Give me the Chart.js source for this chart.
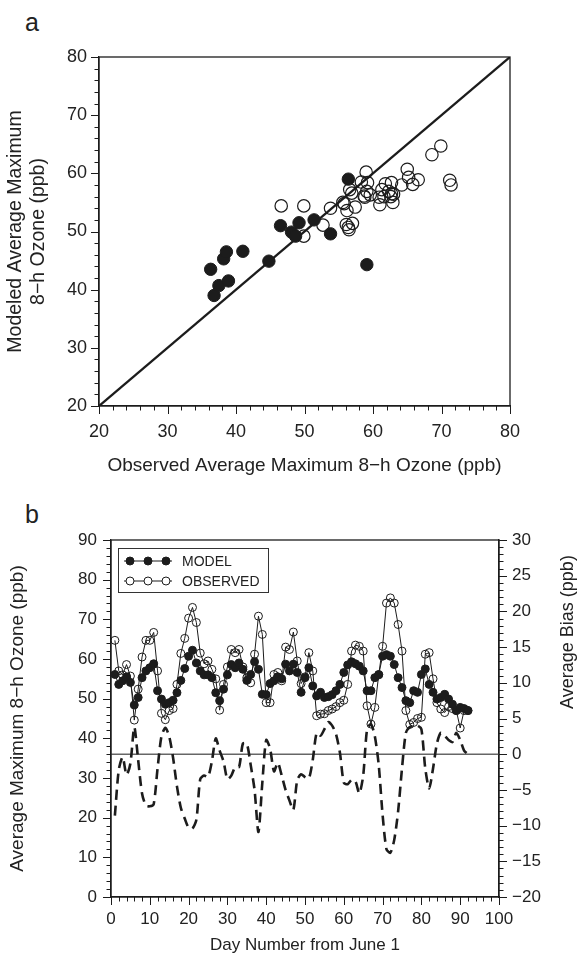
<!DOCTYPE html>
<html>
<head>
<meta charset="utf-8">
<script src="https://cdn.jsdelivr.net/npm/chart.js@4.4.1/dist/chart.umd.min.js"></script>
<style>
  html, body { margin: 0; padding: 0; background: #fff; }
  body { width: 584px; height: 963px; position: relative; overflow: hidden; font-family: "Liberation Sans", Arial, sans-serif; }
  canvas { position: absolute; left: 0; }
  .panel { position: absolute; left: 25px; font-size: 25px; color: #222; line-height: 1; }
</style>
</head>
<body>
<div class="panel" style="top:10px">a</div>
<div class="panel" style="top:502px">b</div>
<canvas id="scatterChart" width="584" height="490" style="top:0"></canvas>
<canvas id="seriesChart" width="584" height="473" style="top:490px"></canvas>
<script>
// ---- panel a: modeled vs observed (ppb) ----
const filledObs = [36.3, 36.8, 37.5, 38.2, 38.6, 38.9, 41.0, 44.8, 46.5, 48.1, 48.7, 49.2, 51.4, 53.8, 56.4, 59.1];
const filledMod = [43.5, 39.0, 40.7, 45.3, 46.5, 41.5, 46.6, 44.9, 51.0, 49.9, 49.2, 51.5, 52.0, 49.6, 59.0, 44.3];
const openObs = [46.6, 49.9, 49.9, 52.7, 53.8, 55.6, 56.2, 56.1, 56.5, 57.0, 56.6, 56.9, 57.4, 58.3, 58.7, 59.0,
                 59.2, 59.6, 59.1, 60.9, 61.0, 61.3, 61.8, 62.3, 62.7, 62.9, 63.0, 64.2, 65.0, 65.2, 65.8, 66.6,
                 68.6, 69.9, 71.2, 71.4, 62.7, 55.8, 56.4, 58.8, 61.6, 62.6];
const openMod = [54.4, 54.4, 49.2, 51.1, 54.0, 55.0, 53.6, 51.2, 50.3, 51.4, 57.2, 56.6, 54.2, 58.5, 56.1, 60.2,
                 58.4, 56.3, 56.9, 55.9, 54.6, 57.2, 58.2, 56.9, 58.4, 55.0, 56.4, 58.0, 60.7, 59.3, 58.1, 58.9,
                 63.2, 64.7, 58.8, 58.0, 56.5, 54.8, 50.7, 55.9, 56.0, 56.0];
const oneToOne = [20, 80];

// ---- panel b: daily series from June 1 ----
const firstDay = 1;
const modelOzone = [
  56.1, 53.6, 54.5, 55.5, 54.1, 48.4, 50.3, 55.3, 57.0, 57.8,
  58.8, 52.0, 49.9, 48.6, 49.0, 49.6, 51.5, 54.6, 57.6, 60.7,
  62.2, 59.0, 57.0, 56.0, 56.0, 55.3, 51.5, 49.5, 52.4, 56.0,
  58.6, 57.8, 59.0, 57.4, 54.6, 56.1, 59.3, 57.4, 51.1, 51.0,
  53.8, 54.5, 55.5, 55.0, 58.7, 57.0, 58.7, 56.6, 51.6, 55.3,
  57.8, 53.2, 50.7, 51.6, 50.3, 50.5, 51.0, 52.0, 53.6, 56.6,
  58.5, 59.3, 58.8, 58.2, 57.0, 52.0, 52.0, 55.3, 56.1, 60.7,
  61.1, 60.7, 58.6, 55.3, 52.8, 49.5, 49.0, 52.0, 51.6, 56.1,
  57.5, 53.6, 51.6, 49.9, 50.3, 51.1, 49.9, 48.6, 47.0, 47.8,
  47.5, 47.0];
const observedOzone = [
  64.7, 57.0, 56.0, 58.6, 55.7, 44.6, 52.4, 60.5, 64.7, 64.7,
  66.7, 57.0, 46.3, 44.7, 47.0, 47.5, 53.6, 61.4, 65.2, 70.3,
  73.0, 69.2, 61.5, 58.8, 59.5, 57.4, 55.0, 47.1, 53.6, 58.0,
  62.4, 61.6, 62.4, 58.0, 55.3, 54.0, 61.2, 70.8, 66.2, 49.0,
  49.0, 56.1, 56.6, 54.5, 63.0, 62.4, 66.8, 59.5, 53.8, 55.5,
  61.6, 57.0, 45.7, 46.1, 46.2, 47.0, 47.4, 48.0, 49.0, 49.6,
  53.6, 62.0, 63.5, 63.2, 62.0, 48.2, 43.6, 47.8, 56.0, 63.2,
  74.1, 75.4, 74.1, 68.7, 62.0, 47.0, 43.5, 44.0, 45.0, 45.3,
  61.2, 61.6, 55.0, 49.0, 47.4, 46.5, 48.0, 47.5, 47.0, 42.6,
  47.0, 47.0];
const averageBias = [
  -8.6, -2.2, -0.4, -2.9, -1.3, 3.8, -0.8, -5.5, -7.2, -7.3,
  -7.0, -2.0, 2.5, 3.7, 2.5, -0.5, -4.5, -7.5, -9.0, -10.3,
  -10.4, -9.2, -3.5, -3.0, -3.2, -1.0, 2.2, 0.5, -1.0, -3.5,
  -3.0, -1.8, -1.8, 1.5, 1.5, -1.5, -5.0, -10.9, -4.0, 2.0,
  0.8, -2.4, -1.2, -3.0, -5.0, -6.5, -7.8, -3.6, -2.8, -3.2,
  -3.4, -0.8, 3.0, 2.6, 3.5, 4.5, 4.0, 2.8, 0.2, -4.0,
  -4.2, -3.6, -3.8, -5.5, -3.0, 3.5, 4.2, 2.5, -1.5, -8.5,
  -13.3, -13.8, -12.0, -8.0, -2.0, 3.0, 3.8, 4.0, 4.0, 3.5,
  -2.0, -4.8, -2.0, 1.5, 3.0, 2.6, 2.0, 1.7, 3.0, 2.0,
  0.5, 0.0];
const zeroLineDays = [0, 100];

const INK = '#1c1c1c';
const FONT = '"Liberation Sans", Arial, sans-serif';
Chart.defaults.font.family = FONT;
Chart.defaults.color = '#222';

function pairs(xs, ys) {
  return xs.map((x, i) => ({ x: x, y: ys[i] }));
}
function daySeries(values) {
  return values.map((v, i) => ({ x: firstDay + i, y: v }));
}
function majorLabel(every) {
  return v => (Math.abs(v % every) < 1e-6 ? (v < 0 ? '\u2212' + Math.abs(v) : String(v)) : '');
}

// box round the plot area, plus major/minor ticks on the outside
const axisFrame = {
  id: 'axisFrame',
  afterDraw(chart, args, opts) {
    const ctx = chart.ctx, a = chart.chartArea;
    ctx.save();
    ctx.strokeStyle = INK;
    ctx.lineWidth = 1;
    Object.keys(opts.majors || {}).forEach(id => {
      const s = chart.scales[id];
      s.ticks.forEach(t => {
        const major = Math.abs(t.value % opts.majors[id]) < 1e-6;
        const len = major ? 8 : 4.5;
        const p = Math.round(s.getPixelForValue(t.value)) + 0.5;
        ctx.beginPath();
        if (s.position === 'left') { ctx.moveTo(a.left - len, p); ctx.lineTo(a.left, p); }
        else if (s.position === 'right') { ctx.moveTo(a.right, p); ctx.lineTo(a.right + len, p); }
        else { ctx.moveTo(p, a.bottom); ctx.lineTo(p, a.bottom + len); }
        ctx.stroke();
      });
    });
    ctx.lineWidth = 1.3;
    ctx.strokeRect(a.left, a.top, a.right - a.left, a.bottom - a.top);
    ctx.restore();
  }
};

// legend box and right-hand axis title for panel b
const seriesExtras = {
  id: 'seriesExtras',
  afterDraw(chart) {
    const ctx = chart.ctx, a = chart.chartArea;
    ctx.save();
    const x0 = a.left + 7, y0 = a.top + 8;
    ctx.fillStyle = '#fff';
    ctx.fillRect(x0, y0, 150, 44);
    ctx.strokeStyle = '#333';
    ctx.lineWidth = 1;
    ctx.strokeRect(x0 + 0.5, y0 + 0.5, 150, 44);
    const rows = [
      { text: 'MODEL', fill: INK, y: y0 + 13 },
      { text: 'OBSERVED', fill: '#fff', y: y0 + 33 }
    ];
    rows.forEach(r => {
      ctx.strokeStyle = INK;
      ctx.lineWidth = 1;
      ctx.beginPath();
      ctx.moveTo(x0 + 6, r.y);
      ctx.lineTo(x0 + 54, r.y);
      ctx.stroke();
      [12, 30, 48].forEach(dx => {
        ctx.beginPath();
        ctx.arc(x0 + dx, r.y, 4, 0, Math.PI * 2);
        ctx.fillStyle = r.fill;
        ctx.fill();
        ctx.stroke();
      });
      ctx.fillStyle = '#222';
      ctx.font = '14px ' + FONT;
      ctx.textBaseline = 'middle';
      ctx.textAlign = 'left';
      ctx.fillText(r.text, x0 + 64, r.y + 1);
    });
    ctx.translate(568, a.top + 92);
    ctx.rotate(-Math.PI / 2);
    ctx.fillStyle = '#222';
    ctx.font = '18px ' + FONT;
    ctx.textAlign = 'center';
    ctx.textBaseline = 'middle';
    ctx.fillText('Average Bias (ppb)', 0, 0);
    ctx.restore();
  }
};

// ---- render panel a ----
new Chart(document.getElementById('scatterChart'), {
  type: 'scatter',
  data: {
    datasets: [
      { data: pairs(filledObs, filledMod), pointRadius: 6.2, pointBackgroundColor: INK, pointBorderColor: INK, pointBorderWidth: 1 },
      { data: pairs(openObs, openMod), pointRadius: 6.2, pointBackgroundColor: 'rgba(255,255,255,0)', pointBorderColor: INK, pointBorderWidth: 1.2 },
      { data: pairs(oneToOne, oneToOne), showLine: true, borderColor: INK, borderWidth: 2.3, pointRadius: 0 }
    ]
  },
  options: {
    responsive: false,
    animation: false,
    layout: { padding: { top: 57, right: 74, left: 0, bottom: 0 } },
    plugins: {
      legend: { display: false },
      tooltip: { enabled: false },
      axisFrame: { majors: { x: 10, y: 10 } }
    },
    scales: {
      x: {
        type: 'linear', min: 20, max: 80,
        afterFit: s => { s.height = 84; },
        ticks: { stepSize: 2, autoSkip: false, maxRotation: 0, padding: 7, font: { size: 18 }, callback: majorLabel(10) },
        grid: { drawOnChartArea: false, tickLength: 8, tickColor: 'transparent' },
        border: { color: INK, width: 1.3 },
        title: { display: true, text: 'Observed Average Maximum 8\u2212h Ozone (ppb)', font: { size: 19 }, padding: { top: 0, bottom: 13 } }
      },
      y: {
        type: 'linear', min: 20, max: 80,
        afterFit: s => { s.width = 99; },
        ticks: { stepSize: 2, autoSkip: false, padding: 4, font: { size: 18 }, callback: majorLabel(10) },
        grid: { drawOnChartArea: false, tickLength: 8, tickColor: 'transparent' },
        border: { color: INK, width: 1.3 },
        title: { display: true, text: ['Modeled Average Maximum', '8\u2212h Ozone (ppb)'], font: { size: 19.5 }, padding: { top: 4, bottom: 0 } }
      }
    }
  },
  plugins: [axisFrame]
});

// ---- render panel b ----
new Chart(document.getElementById('seriesChart'), {
  type: 'scatter',
  data: {
    datasets: [
      { label: 'MODEL', data: daySeries(modelOzone), yAxisID: 'y', showLine: true, borderColor: INK, borderWidth: 1,
        pointRadius: 4, pointBackgroundColor: INK, pointBorderColor: INK, pointBorderWidth: 1 },
      { label: 'OBSERVED', data: daySeries(observedOzone), yAxisID: 'y', showLine: true, borderColor: INK, borderWidth: 1,
        pointRadius: 4, pointBackgroundColor: 'rgba(255,255,255,0)', pointBorderColor: INK, pointBorderWidth: 1 },
      { label: 'BIAS', data: daySeries(averageBias), yAxisID: 'y2', showLine: true, borderColor: INK, borderWidth: 2.6,
        borderDash: [10, 6], tension: 0.25, pointRadius: 0 },
      { label: 'zero', data: pairs(zeroLineDays, [0, 0]), yAxisID: 'y2', showLine: true, borderColor: '#666', borderWidth: 1.6, pointRadius: 0 }
    ]
  },
  options: {
    responsive: false,
    animation: false,
    layout: { padding: { top: 50, right: 0, left: 0, bottom: 0 } },
    plugins: {
      legend: { display: false },
      tooltip: { enabled: false },
      axisFrame: { majors: { x: 10, y: 10, y2: 5 } }
    },
    scales: {
      x: {
        type: 'linear', min: 0, max: 100,
        afterFit: s => { s.height = 66; },
        ticks: { stepSize: 2, autoSkip: false, maxRotation: 0, padding: 4, font: { size: 17 }, callback: majorLabel(10) },
        grid: { drawOnChartArea: false, tickLength: 8, tickColor: 'transparent' },
        border: { color: INK, width: 1.3 },
        title: { display: true, text: 'Day Number from June 1', font: { size: 17 }, padding: { top: 0, bottom: 7 } }
      },
      y: {
        type: 'linear', position: 'left', min: 0, max: 90,
        afterFit: s => { s.width = 111; },
        ticks: { stepSize: 2, autoSkip: false, padding: 6, font: { size: 17 }, callback: majorLabel(10) },
        grid: { drawOnChartArea: false, tickLength: 8, tickColor: 'transparent' },
        border: { color: INK, width: 1.3 },
        title: { display: true, text: 'Average Maximum 8\u2212h Ozone (ppb)', font: { size: 19 }, padding: { top: 6, bottom: 0 } }
      },
      y2: {
        type: 'linear', position: 'right', min: -20, max: 30,
        afterFit: s => { s.width = 85; },
        ticks: { stepSize: 1, autoSkip: false, padding: 5, font: { size: 17 }, callback: majorLabel(5) },
        grid: { drawOnChartArea: false, tickLength: 8, tickColor: 'transparent' },
        border: { color: INK, width: 1.3 }
      }
    }
  },
  plugins: [axisFrame, seriesExtras]
});
</script>
</body>
</html>
